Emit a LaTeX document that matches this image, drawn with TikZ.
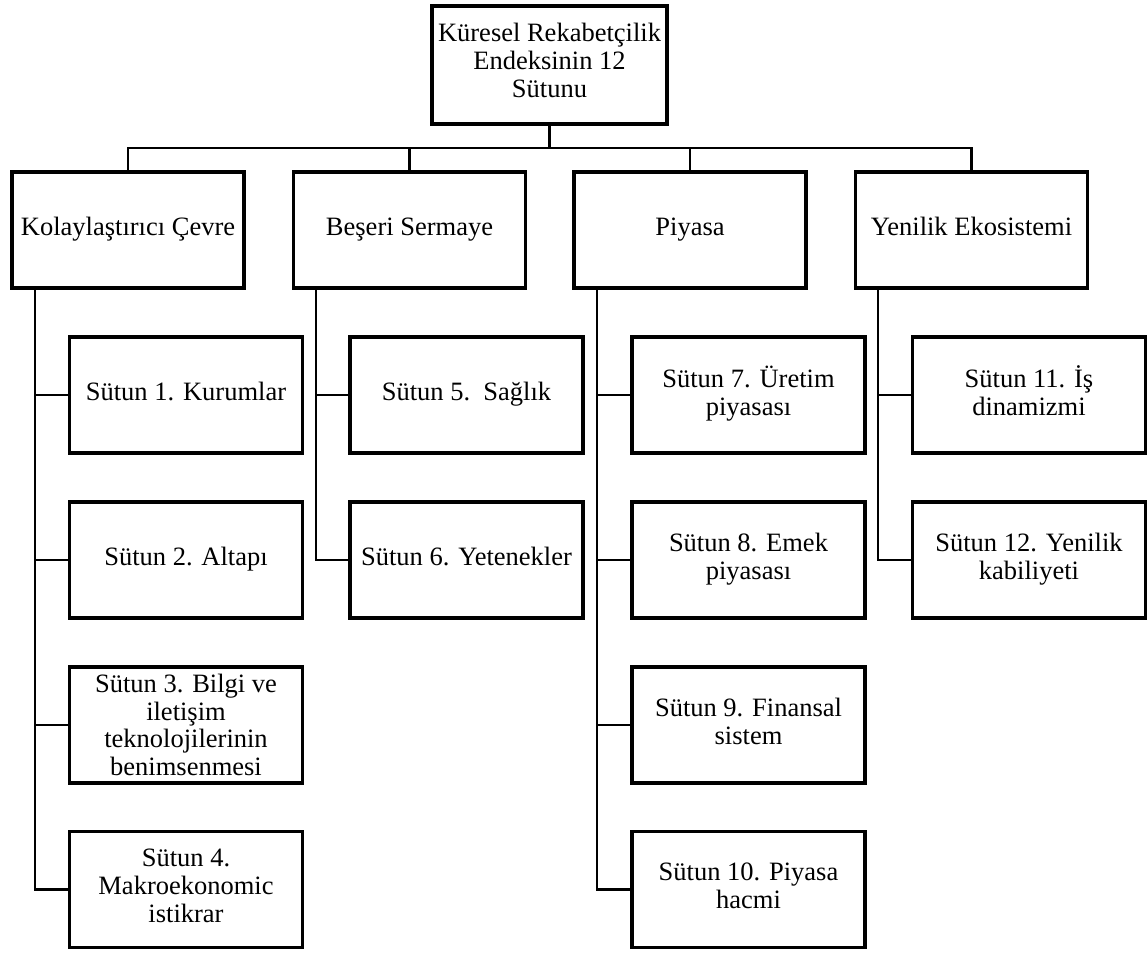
\documentclass[tikz,border=0pt]{standalone}
\usepackage{fontspec}
\setmainfont{Liberation Serif}
\begin{document}
\begin{tikzpicture}[x=1pt,y=-1pt,
  basebox/.style={draw=black, line width=3.6pt, fill=white, inner sep=0pt, align=center,
    font=\fontsize{26.5}{28}\selectfont},
  box/.style={basebox, execute at begin node=\strut, execute at end node=\strut},
  topbox/.style={box, minimum width=235pt, minimum height=118pt},
  catbox/.style={box, minimum width=232pt, minimum height=116pt},
  kidbox/.style={box, minimum width=233pt, minimum height=116pt},
  tallkid/.style={basebox, minimum width=233pt, minimum height=116pt,
    font=\fontsize{26.5}{27.5}\selectfont},
  link/.style={draw=black, line width=2.4pt}]
\useasboundingbox (0,0) rectangle (1147,952);

% top
\node[topbox] (top) at (549.5,65) {Küresel Rekabetçilik\\Endeksinin 12\\Sütunu};
\coordinate (bus) at (549.5,148);

% categories
\node[catbox] (c1) at (128,230) {Kolaylaştırıcı Çevre};
\node[catbox] (c2) at (409.5,230) {Beşeri Sermaye};
\node[catbox] (c3) at (690,230) {Piyasa};
\node[catbox] (c4) at (971.5,230) {Yenilik Ekosistemi};

% children
\node[kidbox] (k1) at (186,395) {Sütun 1. Kurumlar};
\node[kidbox] (k2) at (186,560) {Sütun 2. Altapı};
\node[tallkid] (k3) at (186,725) {Sütun 3. Bilgi ve\\iletişim\\teknolojilerinin\\benimsenmesi};
\node[kidbox] (k4) at (186,889.5) {Sütun 4.\\Makroekonomic\\istikrar};

\node[kidbox] (k5) at (466.5,395) {Sütun 5.\ \ Sağlık};
\node[kidbox] (k6) at (466.5,560) {Sütun 6. Yetenekler};

\node[kidbox] (k7) at (748.5,395) {Sütun 7. Üretim\\piyasası};
\node[kidbox] (k8) at (748.5,560) {Sütun 8. Emek\\piyasası};
\node[kidbox] (k9) at (748.5,725) {Sütun 9. Finansal\\sistem};
\node[kidbox] (k10) at (748.5,889.5) {Sütun 10. Piyasa\\hacmi};

\node[kidbox] (k11) at (1029,395) {Sütun 11. İş\\dinamizmi};
\node[kidbox] (k12) at (1029,560) {Sütun 12. Yenilik\\kabiliyeti};

% spine start points
\coordinate (s1) at (35,288);
\coordinate (s2) at (316,288);
\coordinate (s3) at (597,288);
\coordinate (s4) at (878,288);

\draw[link, line width=3pt] (top.south) -- (bus);
\draw[link] (c1.north) |- (bus);
\draw[link] (c2.north) |- (bus);
\draw[link] (c3.north) |- (bus);
\draw[link] (c4.north) |- (bus);

\draw[link] (s1) |- (k1.west);
\draw[link] (s1) |- (k2.west);
\draw[link] (s1) |- (k3.west);
\draw[link] (s1) |- (k4.west);

\draw[link] (s2) |- (k5.west);
\draw[link] (s2) |- (k6.west);

\draw[link] (s3) |- (k7.west);
\draw[link] (s3) |- (k8.west);
\draw[link] (s3) |- (k9.west);
\draw[link] (s3) |- (k10.west);

\draw[link] (s4) |- (k11.west);
\draw[link] (s4) |- (k12.west);
\end{tikzpicture}
\end{document}
